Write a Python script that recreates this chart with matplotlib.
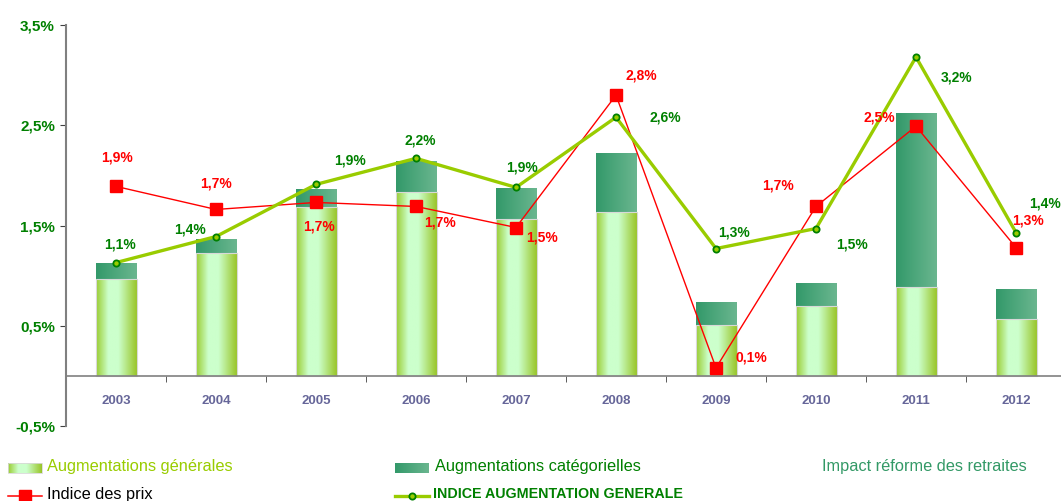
import numpy as np
import matplotlib
matplotlib.use("Agg")
import matplotlib.pyplot as plt
from matplotlib.patches import Rectangle
from matplotlib.colors import LinearSegmentedColormap

plt.rcParams['font.family'] = ['Liberation Sans', 'DejaVu Sans']

years = ["2003", "2004", "2005", "2006", "2007", "2008", "2009", "2010", "2011", "2012"]
aug_generales = [0.97, 1.23, 1.68, 1.83, 1.56, 1.63, 0.51, 0.70, 0.89, 0.57]
aug_categorielles = [0.15, 0.13, 0.17, 0.30, 0.30, 0.58, 0.22, 0.22, 1.73, 0.29]
indice_aug = [1.13, 1.39, 1.91, 2.17, 1.88, 2.58, 1.27, 1.47, 3.18, 1.43]
indice_prix = [1.89, 1.66, 1.73, 1.69, 1.48, 2.80, 0.08, 1.69, 2.49, 1.28]
labels_aug = ["1,1%", "1,4%", "1,9%", "2,2%", "1,9%", "2,6%", "1,3%", "1,5%", "3,2%", "1,4%"]
labels_prix = ["1,9%", "1,7%", "1,7%", "1,7%", "1,5%", "2,8%", "0,1%", "1,7%", "2,5%", "1,3%"]
yticks = [3.5, 2.5, 1.5, 0.5, -0.5]
ytick_labels = ["3,5%", "2,5%", "1,5%", "0,5%", "-0,5%"]

# label offsets in pixels (dx, dy upward)
off_aug = [(4, 18), (-26, 7), (34, 24), (4, 18), (6, 20), (49, 0), (18, 16), (36, -16), (41, -20), (29, 29)]
off_prix = [(1, 29), (0, 26), (3, -24), (24, -16), (26, -10), (25, 20), (35, 10), (-38, 21), (-37, 9), (12, 27)]

GREEN = "#008000"
LIME = "#99CC00"
RED = "#FF0000"

gen_cmap = LinearSegmentedColormap.from_list(
    "gen", [(0, "#9ACD32"), (0.3, "#CCFFCC"), (0.55, "#CCFFCC"), (1, "#99C62A")])
cat_cmap = LinearSegmentedColormap.from_list("cat", ["#33996A", "#6AB68F"])
grad = np.linspace(0, 1, 64).reshape(1, -1)

W, H = 1061, 501
fig = plt.figure(figsize=(W / 100, H / 100), dpi=100)
ax = fig.add_axes([66 / W, (H - 426) / H, 1000 / W, 401 / H])

x = np.arange(len(years))
bw = 0.41
for i in x:
    g = aug_generales[i]
    c = aug_categorielles[i]
    ax.imshow(grad, cmap=gen_cmap, extent=[i - bw / 2, i + bw / 2, 0, g],
              aspect='auto', zorder=2)
    ax.add_patch(Rectangle((i - bw / 2, 0), bw, g, fill=False,
                           edgecolor="#D8D8D8", lw=0.8, zorder=2.1))
    ax.imshow(grad, cmap=cat_cmap, extent=[i - bw / 2, i + bw / 2, g, g + c],
              aspect='auto', zorder=2)

ax.plot(x, indice_prix, color=RED, lw=1.0, marker='s', ms=9, mfc=RED, mec=RED, zorder=4)
ax.plot(x, indice_aug, color=LIME, lw=2.4, marker='o', ms=4.5, mfc=LIME, mec=GREEN,
        mew=1.3, zorder=5)

for i in x:
    ax.annotate(labels_aug[i], (i, indice_aug[i]), xytext=off_aug[i],
                textcoords='offset pixels', ha='center', va='center',
                color=GREEN, fontsize=10, fontweight='bold', zorder=6)
    ax.annotate(labels_prix[i], (i, indice_prix[i]), xytext=off_prix[i],
                textcoords='offset pixels', ha='center', va='center',
                color=RED, fontsize=10, fontweight='bold', zorder=6)

ax.set_xlim(-0.5, len(years) - 0.5)
ax.set_ylim(-0.5, 3.5)

for s in ['top', 'right']:
    ax.spines[s].set_visible(False)
ax.spines['bottom'].set_position(('data', 0))
ax.spines['bottom'].set_color("#808080")
ax.spines['left'].set_color("#808080")
ax.spines['left'].set_linewidth(1.5)
ax.spines['bottom'].set_linewidth(1.2)

ax.set_yticks(yticks)
ax.set_yticklabels(ytick_labels, color=GREEN, fontsize=11, fontweight='bold')
ax.tick_params(axis='y', length=4, color="#404040", pad=4)

ax.set_xticks(x)
ax.set_xticklabels(years, color="#666699", fontsize=9.5, fontweight='bold')
ax.set_xticks(np.arange(len(years) - 1) + 0.5, minor=True)
ax.tick_params(axis='x', which='major', length=0, pad=14)
ax.tick_params(axis='x', which='minor', length=4, color="#404040", direction='out')

# legend drawn on an overlay in pixel coordinates
lg = fig.add_axes([0, 0, 1, 1], zorder=10)
lg.set_xlim(0, W)
lg.set_ylim(H, 0)
lg.axis('off')
lg.patch.set_alpha(0)

lg.imshow(grad, cmap=gen_cmap, extent=[8, 42, 473, 463], aspect='auto')
lg.add_patch(Rectangle((8, 463), 34, 10, fill=False, edgecolor="#D8D8D8", lw=0.6))
lg.text(47, 467, "Augmentations générales", color=LIME, fontsize=11.8, va='center')

lg.imshow(grad, cmap=cat_cmap, extent=[395, 429, 473, 463], aspect='auto')
lg.text(435, 467, "Augmentations catégorielles", color=GREEN, fontsize=11.8, va='center')

lg.text(822, 467, "Impact réforme des retraites", color="#339966", fontsize=11.8, va='center')

lg.plot([8, 42], [496, 496], color=RED, lw=1.1)
lg.plot([25], [496], marker='s', ms=8, color=RED)
lg.text(47, 494, "Indice des prix", color="black", fontsize=11.8, va='center')

lg.plot([395, 429], [496, 496], color=LIME, lw=2.4)
lg.plot([412], [496], marker='o', ms=4.5, mfc=LIME, mec=GREEN, mew=1.3)
lg.text(433, 494, "INDICE AUGMENTATION GENERALE", color=GREEN, fontsize=10.3,
        fontweight='bold', va='center')

fig.savefig("out.png", dpi=100)
